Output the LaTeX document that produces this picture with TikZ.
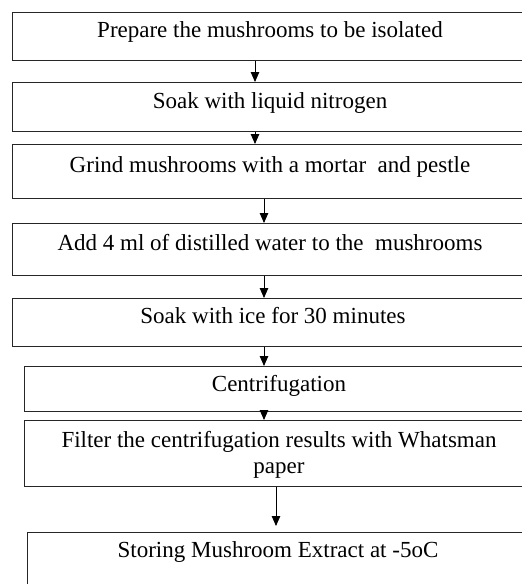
\documentclass[tikz,border=0pt]{standalone}
\usepackage{fontspec}
\setmainfont{Liberation Serif}
\usetikzlibrary{arrows.meta}
\tikzset{
  stepbox/.style={draw=black!85, line width=0.9pt, rectangle, anchor=north west, inner sep=0pt},
  steptext/.style={anchor=base, inner sep=0pt, font=\fontsize{23}{26}\selectfont, align=center},
  arr/.style={draw=black, line width=0.9pt, -{Triangle[width=8.5pt,length=10pt]}}
}
\begin{document}
\begin{tikzpicture}[x=1pt,y=-1pt]
\useasboundingbox (0,0) rectangle (522,584);
\clip (0,0) rectangle (522,584);
\fill[white] (0,0) rectangle (522,584);
% boxes
\node[stepbox, minimum width=520pt, minimum height=48pt] (b1) at (12,12) {};
\node[stepbox, minimum width=520pt, minimum height=49pt] (b2) at (12,82) {};
\node[stepbox, minimum width=520pt, minimum height=54pt] (b3) at (12,144) {};
\node[stepbox, minimum width=520pt, minimum height=52pt] (b4) at (12,223) {};
\node[stepbox, minimum width=520pt, minimum height=48pt] (b5) at (12,298) {};
\node[stepbox, minimum width=508pt, minimum height=45pt] (b6) at (24,366) {};
\node[stepbox, minimum width=508pt, minimum height=66pt] (b7) at (24,420) {};
\node[stepbox, minimum width=505pt, minimum height=70pt] (b8) at (27,532) {};
% texts
\node[steptext] (t1) at (270,37) {Prepare the mushrooms to be isolated};
\node[steptext] (t2) at (270,108) {Soak with liquid nitrogen};
\node[steptext] (t3) at (270,172) {Grind mushrooms with a mortar \ and pestle};
\node[steptext] (t4) at (270,250) {Add 4 ml of distilled water to the \ mushrooms};
\node[steptext] (t5) at (273,323) {Soak with ice for 30 minutes};
\node[steptext] (t6) at (279,391) {Centrifugation};
\node[steptext] (t7) at (279,447) {Filter the centrifugation results with Whatsman};
\node[steptext] (t7b) at (279,473) {paper};
\node[steptext] (t8) at (278,557) {Storing Mushroom Extract at -5oC};
% arrows
\coordinate (x1) at (255,0);
\coordinate (x2) at (264,0);
\coordinate (x3) at (276,0);
\coordinate (e7) at (276,526);
\draw[arr] (b1.south -| x1) -- (b2.north -| x1);
\draw[arr] (b2.south -| x1) -- (b3.north -| x1);
\draw[arr] (b3.south -| x2) -- (b4.north -| x2);
\draw[arr] (b4.south -| x2) -- (b5.north -| x2);
\draw[arr] (b5.south -| x2) -- (b6.north -| x2);
\draw[arr] (b6.south -| x2) -- (b7.north -| x2);
\draw[arr] (b7.south -| x3) -- (e7);
\end{tikzpicture}
\end{document}
